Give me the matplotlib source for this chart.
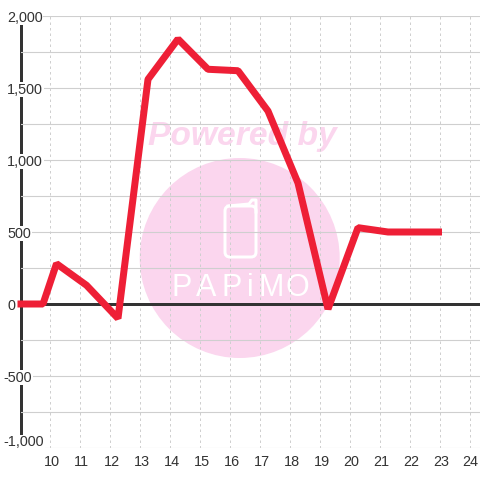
import matplotlib
matplotlib.use("Agg")
import matplotlib.pyplot as plt
from matplotlib.patches import Circle, FancyBboxPatch
from matplotlib.transforms import ScaledTranslation

hours = [8.9, 9.75, 10.2, 11.2, 12.25, 13.25, 14.25, 15.25, 16.25, 17.25, 18.25, 19.25, 20.25, 21.25, 22.25, 23.05]
values = [0, 0, 280, 130, -100, 1560, 1840, 1630, 1620, 1340, 840, -35, 530, 500, 500, 500]
x_ticks = list(range(10, 25))
y_ticks = [-1000, -500, 0, 500, 1000, 1500, 2000]
y_minor = [-750, -250, 250, 750, 1250, 1750]
y_labels = ["-1,000", "-500", "0", "500", "1,000", "1,500", "2,000"]
y_label_pads = [12.4, 12.4, 9, 9.7, 9.7, 9.7, 9.7]
brand = list("PAPiMO")
brand_x = [182, 206, 232, 250, 271, 297]

plt.rcParams["font.family"] = ["Liberation Sans", "DejaVu Sans"]
px = 72 / 100
grey = "#cfcfcf"
dark = "#333333"
pink = "#fbd6ee"

fig = plt.figure(figsize=(4.8, 4.8), dpi=100)

# watermark sits behind the grid
bg = fig.add_axes([0, 0, 1, 1], zorder=0)
bg.set_xlim(0, 480)
bg.set_ylim(480, 0)
bg.axis("off")
bg.add_patch(Circle((239.7, 258), 100, fc=pink, ec="none"))
bg.text(242, 136, "Powered by", color=pink, fontsize=24.2, fontweight="bold",
        fontstyle="italic", ha="center", va="center")
bg.add_patch(FancyBboxPatch((225, 206), 31, 51, boxstyle="round,pad=0,rounding_size=5",
                            fc="none", ec="white", lw=3 * px))
bg.plot([228, 249, 252, 256, 256], [206, 204, 200, 200, 212], color="white", lw=3 * px)
for letter, bx in zip(brand, brand_x):
    bg.text(bx, 288, letter, color="white", fontsize=22, ha="center", va="center")

ax = fig.add_axes([20.5 / 480, 32 / 480, 459.5 / 480, 432 / 480], zorder=1)
ax.patch.set_alpha(0)
ax.set_xlim(9, 24.317)
ax.set_ylim(-1000, 2000)
ax.set_axisbelow(True)

ax.set_xticks(x_ticks)
ax.set_yticks(y_ticks)
ax.set_yticklabels(y_labels)
ax.set_yticks(y_minor, minor=True)
ax.tick_params(axis="both", which="both", length=0, labelsize=10.4, labelcolor=dark)
ax.tick_params(axis="x", pad=5.3)
ax.xaxis.grid(True, color=grey, lw=1 * px, ls=(0, (2.5, 3)))
ax.yaxis.grid(True, which="both", color=grey, lw=1.1 * px)

for tick, pad, label in zip(ax.yaxis.get_major_ticks(), y_label_pads, ax.get_yticklabels()):
    tick.set_pad(pad)
    label.set_ha("left")
    label.set_bbox(dict(fc="white", ec="none", pad=0.5))

# bottom label is pushed up, the x labels sit a pixel right of their grid lines
low = ax.get_yticklabels()[0]
low.set_transform(low.get_transform() + ScaledTranslation(0, 7 / 100, fig.dpi_scale_trans))
for label in ax.get_xticklabels()[:-1]:
    label.set_transform(label.get_transform() + ScaledTranslation(1 / 100, 0, fig.dpi_scale_trans))

for side in ["top", "right", "bottom"]:
    ax.spines[side].set_visible(False)
ax.spines["left"].set_linewidth(3 * px)
ax.spines["left"].set_color(dark)
ax.spines["left"].set_bounds(-917, 1944)
ax.spines["left"].set_zorder(0.4)

ax.axhline(0, color=dark, lw=3 * px, zorder=1.5)
ax.plot(hours, values, color="#ee1f36", lw=7 * px, solid_joinstyle="bevel",
        solid_capstyle="butt", clip_on=False, zorder=3)

fig.savefig("out.png", dpi=100)
